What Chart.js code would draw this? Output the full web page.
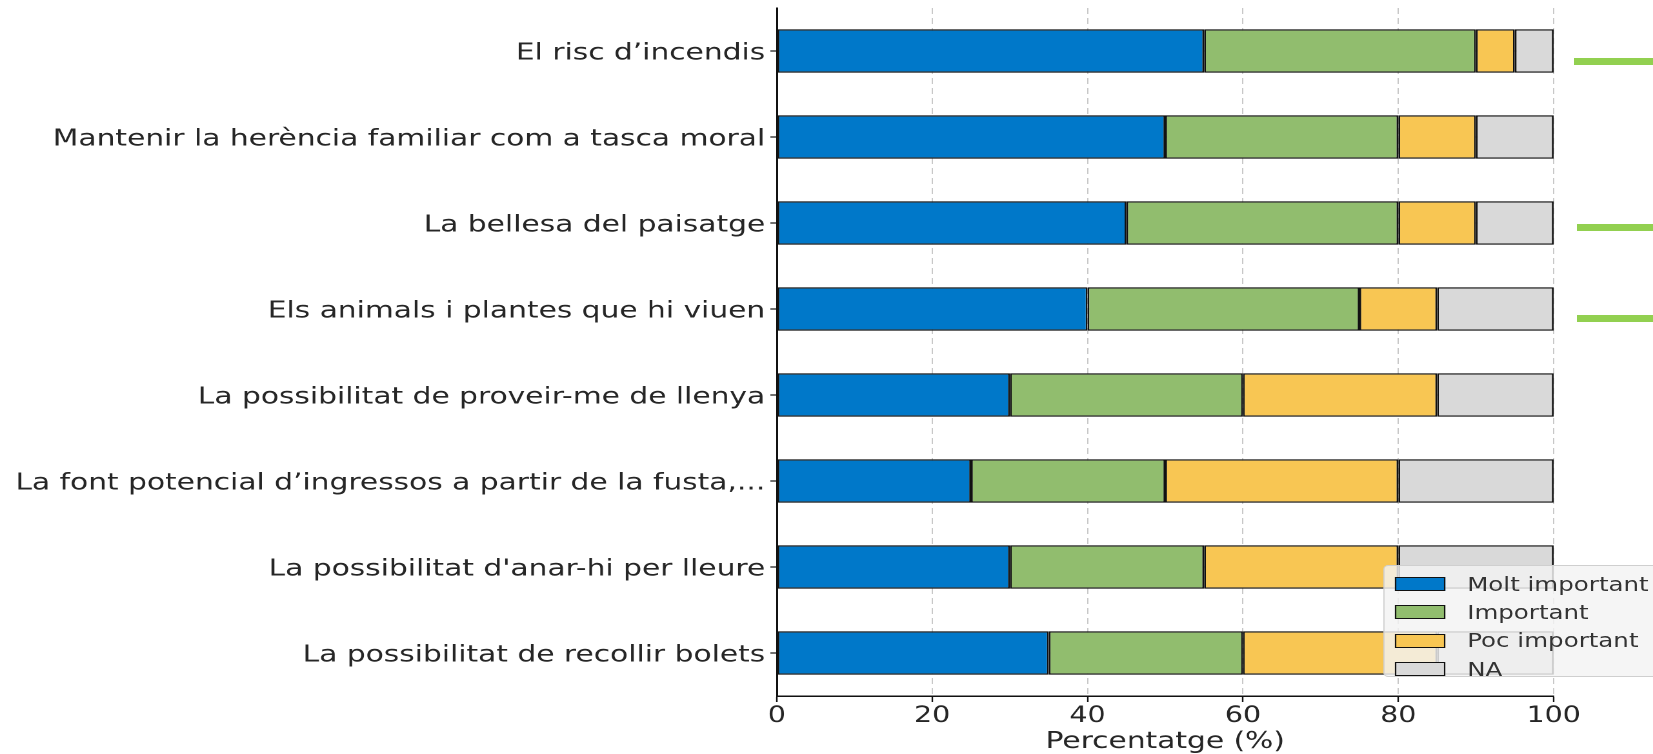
<!DOCTYPE html>
<html>
<head>
<meta charset="utf-8">
<script src="https://cdn.jsdelivr.net/npm/chart.js@4/dist/chart.umd.min.js"></script>
<style>
  html, body { margin: 0; padding: 0; background: #fff; }
  #wrap { position: relative; width: 1653px; height: 754px; overflow: hidden; }
  /* the reference is a horizontally stretched figure, so draw narrow and stretch */
  #stage { position: absolute; left: 0; top: 0; width: 1281px; height: 754px; transform: scaleX(1.2904); transform-origin: 0 0; }
  #chart { width: 1281px !important; height: 754px !important; display: block; }
  #legend {
    position: absolute; left: 1072px; top: 565px; width: 230px; height: 112px;
    background: rgba(243, 243, 243, 0.82); border: 1px solid #cfcfcf; border-radius: 4px;
    box-sizing: border-box; font-family: 'DejaVu Sans', sans-serif; font-size: 19px; color: #333;
  }
  .row { position: absolute; left: 8px; height: 28px; line-height: 28px; white-space: nowrap; }
  .sw { display: inline-block; width: 39px; height: 14px; border: 1.5px solid #111; vertical-align: middle; margin-right: 17px; box-sizing: border-box; position: relative; top: -1px; }
  .mark { position: absolute; height: 7px; background: #92d050; }
</style>
</head>
<body>
<div id="wrap">
  <div id="stage">
    <canvas id="chart" width="1281" height="754"></canvas>
    <div id="legend"></div>
  </div>
  <div class="mark" style="left:1574px; top:58px; width:80px;"></div>
  <div class="mark" style="left:1577px; top:224px; width:77px;"></div>
  <div class="mark" style="left:1577px; top:315px; width:77px;"></div>
</div>
<script>
const categories = [
  'El risc d\u2019incendis',
  'Mantenir la herència familiar com a tasca moral',
  'La bellesa del paisatge',
  'Els animals i plantes que hi viuen',
  'La possibilitat de proveir-me de llenya',
  'La font potencial d\u2019ingressos a partir de la fusta,...',
  'La possibilitat d\'anar-hi per lleure',
  'La possibilitat de recollir bolets'
];
const seriesNames = ['Molt important', 'Important', 'Poc important', 'NA'];
const seriesColors = ['#0078C9', '#91BD6E', '#F8C653', '#D9D9D9'];
const moltImportant = [55, 50, 45, 40, 30, 25, 30, 35];
const important = [35, 30, 35, 35, 30, 25, 25, 25];
const pocImportant = [5, 10, 10, 10, 25, 30, 25, 25];
const na = [5, 10, 10, 15, 15, 20, 20, 15];
const xTicks = [0, 20, 40, 60, 80, 100];

const seriesValues = [moltImportant, important, pocImportant, na];
const font = 'DejaVu Sans';
const gridColor = 'rgba(170, 170, 170, 0.65)';
const textColor = '#262626';

const chart = new Chart(document.getElementById('chart'), {
  type: 'bar',
  data: {
    labels: categories,
    datasets: seriesNames.map((name, i) => ({
      label: name,
      data: seriesValues[i],
      backgroundColor: seriesColors[i],
      borderColor: '#111',
      borderWidth: 1.4,
      borderSkipped: false,
      barPercentage: 0.505,
      categoryPercentage: 1
    }))
  },
  options: {
    indexAxis: 'y',
    responsive: false,
    animation: false,
    devicePixelRatio: 2,
    layout: { padding: { top: 8, right: 77, left: 0, bottom: 0 } },
    plugins: { legend: { display: false }, tooltip: { enabled: false } },
    scales: {
      x: {
        stacked: true,
        min: 0,
        max: 100,
        z: 1,
        afterBuildTicks: (axis) => { axis.ticks = xTicks.map(v => ({ value: v })); },
        afterFit: (axis) => { axis.height = 58; axis.paddingLeft = 0; axis.paddingRight = 0; },
        border: { display: true, color: '#111', width: 1.5, dash: [6, 4] },
        grid: {
          color: gridColor, lineWidth: 1,
          tickLength: 6, tickColor: '#111', tickBorderDash: [], tickWidth: 1.2
        },
        ticks: { color: textColor, font: { family: font, size: 22 }, padding: 1 },
        title: { display: true, text: 'Percentatge (%)', color: textColor, font: { family: font, size: 23 }, padding: { top: 0, bottom: -2 } }
      },
      y: {
        stacked: true,
        z: 1,
        afterFit: (axis) => { axis.width = 602; axis.paddingTop = 0; axis.paddingBottom = 0; },
        border: { display: true, color: '#111', width: 1.5, dash: [6, 4] },
        grid: {
          offset: false, color: gridColor, lineWidth: 1,
          tickLength: 5, tickColor: '#111', tickBorderDash: [], tickWidth: 1.2
        },
        ticks: { color: textColor, font: { family: font, size: 23 }, padding: 4, labelOffset: 2.5 }
      }
    }
  }
});

const legend = document.getElementById('legend');
legend.innerHTML = seriesNames.map((name, i) =>
  `<div class="row" style="top:${3.5 + i * 28.4}px"><span class="sw" style="background:${seriesColors[i]}"></span>${name}</div>`
).join('');
</script>
</body>
</html>
